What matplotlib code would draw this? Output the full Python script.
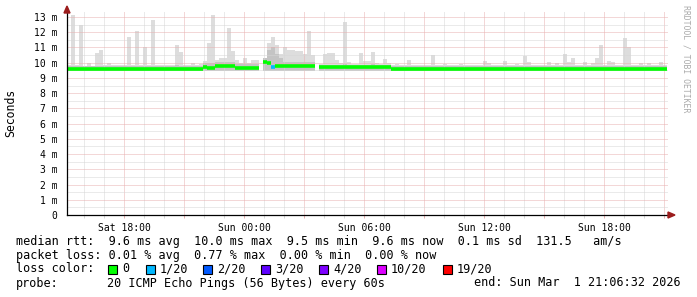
import numpy as np
import matplotlib
matplotlib.use("Agg")
import matplotlib.pyplot as plt
import matplotlib.dates as mdates
from matplotlib.patches import Polygon, Rectangle
from datetime import datetime, timedelta

nan = np.nan

# 12 minute steps, Sat 28 Feb 15:09 -> Sun 1 Mar 21:09
t_start = datetime(2026, 2, 28, 15, 9)
t_end = datetime(2026, 3, 1, 21, 12)
step_min = 12

# top of the smoke (max rtt per step, ms)
smoke_top = [
    9.85, 13.1, 9.85, 12.5, 9.8, 10.0, 9.8, 10.65, 10.83, 9.85,
    9.95, 9.85, 9.85, 9.85, 9.85, 11.7, 9.85, 12.08, 9.85, 11.05,
    9.85, 12.8, 9.85, 9.85, 9.85, 9.85, 9.85, 11.16, 10.7, 9.85,
    9.85, 10.0, 9.85, 9.9, 10.1, 11.3, 13.1, 10.2, 10.3, 10.3,
    12.3, 10.77, 10.18, 10.0, 10.33, 10.0, 10.18, 10.18, nan, 10.33,
    11.3, 11.7, 11.16, 10.6, 11.05, 10.83, 10.83, 10.77, 10.77, 10.6,
    12.08, 10.5, nan, 9.9, 10.6, 10.65, 10.65, 10.2, 10.0, 12.7,
    10.05, 9.9, 9.9, 10.65, 10.1, 10.1, 10.7, 10.0, 9.9, 10.24,
    10.0, 9.85, 9.9, 9.85, 9.85, 10.18, 9.85, 9.85, 9.85, 9.85,
    9.85, 10.5, 9.85, 9.85, 9.9, 9.85, 9.85, 9.85, 9.9, 9.85,
    9.85, 9.85, 9.85, 9.85, 10.1, 9.98, 9.85, 9.85, 9.85, 10.1,
    9.85, 9.85, 9.9, 9.85, 10.44, 10.07, 9.85, 9.85, 9.85, 9.85,
    10.07, 9.85, 9.98, 9.85, 10.57, 10.05, 10.3, 9.85, 9.85, 10.07,
    9.85, 10.0, 10.3, 11.16, 9.85, 10.1, 10.05, 9.85, 9.85, 11.6,
    11.0, 9.85, 9.85, 10.0, 9.85, 9.95, 9.85, 9.85, 10.07, 9.85,
]

# darker inner smoke (upper quartile, ms)
smoke_mid = [
    9.75, 9.8, 9.75, 9.8, 9.75, 9.75, 9.75, 9.8, 9.8, 9.75,
    9.75, 9.75, 9.75, 9.75, 9.75, 9.8, 9.75, 9.8, 9.75, 9.8,
    9.75, 9.8, 9.75, 9.75, 9.75, 9.75, 9.75, 9.85, 9.8, 9.75,
    9.75, 9.75, 9.75, 9.75, 9.95, 10.0, 10.0, 10.05, 10.05, 10.05,
    10.05, 10.05, 9.9, 9.9, 9.9, 9.9, 9.9, 9.9, nan, 10.3,
    10.8, 11.0, 10.6, 10.3, 10.05, 10.05, 10.05, 10.05, 10.05, 10.05,
    10.05, 10.05, nan, 9.85, 9.85, 9.85, 9.85, 9.85, 9.85, 9.9,
    9.85, 9.85, 9.85, 9.85, 9.85, 9.85, 9.9, 9.85, 9.85, 9.85,
    9.85, 9.75, 9.75, 9.75, 9.75, 9.8, 9.75, 9.75, 9.75, 9.75,
    9.75, 9.8, 9.75, 9.75, 9.75, 9.75, 9.75, 9.75, 9.75, 9.75,
    9.75, 9.75, 9.75, 9.75, 9.8, 9.75, 9.75, 9.75, 9.75, 9.8,
    9.75, 9.75, 9.75, 9.75, 9.8, 9.75, 9.75, 9.75, 9.75, 9.75,
    9.75, 9.75, 9.75, 9.75, 9.8, 9.75, 9.8, 9.75, 9.75, 9.75,
    9.75, 9.75, 9.8, 9.8, 9.75, 9.75, 9.75, 9.75, 9.75, 9.8,
    9.8, 9.75, 9.75, 9.75, 9.75, 9.75, 9.75, 9.75, 9.75, 9.75,
]
smoke_floor = 9.45

median = [
    9.6, 9.6, 9.6, 9.6, 9.6, 9.6, 9.6, 9.6, 9.6, 9.6,
    9.6, 9.6, 9.6, 9.6, 9.6, 9.6, 9.6, 9.6, 9.6, 9.6,
    9.6, 9.6, 9.6, 9.6, 9.6, 9.6, 9.6, 9.6, 9.6, 9.6,
    9.6, 9.6, 9.6, 9.6, 9.7, 9.66, 9.62, 9.76, 9.76, 9.76,
    9.76, 9.76, 9.68, 9.68, 9.68, 9.62, 9.62, 9.62, nan, 10.05,
    9.98, 9.7, 9.78, 9.78, 9.78, 9.78, 9.78, 9.78, 9.78, 9.78,
    9.78, 9.78, nan, 9.7, 9.7, 9.7, 9.7, 9.7, 9.7, 9.7,
    9.7, 9.7, 9.7, 9.7, 9.7, 9.7, 9.7, 9.7, 9.7, 9.7,
    9.7, 9.6, 9.6, 9.6, 9.6, 9.6, 9.6, 9.6, 9.6, 9.6,
    9.6, 9.6, 9.6, 9.6, 9.6, 9.6, 9.6, 9.6, 9.6, 9.6,
    9.6, 9.6, 9.6, 9.6, 9.6, 9.6, 9.6, 9.6, 9.6, 9.6,
    9.6, 9.6, 9.6, 9.6, 9.6, 9.6, 9.6, 9.6, 9.6, 9.6,
    9.6, 9.6, 9.6, 9.6, 9.6, 9.6, 9.6, 9.6, 9.6, 9.6,
    9.6, 9.6, 9.6, 9.6, 9.6, 9.6, 9.6, 9.6, 9.6, 9.6,
    9.6, 9.6, 9.6, 9.6, 9.6, 9.6, 9.6, 9.6, 9.6, 9.6,
]

# lost pings out of 20 per step (only one step had a loss)
loss = [0] * 150
loss[51] = 1

loss_labels = ["0", "1/20", "2/20", "3/20", "4/20", "10/20", "19/20"]
loss_steps = [0, 1, 2, 3, 4, 10, 19]
loss_colors = ["#00ff00", "#00b8ff", "#0059ff", "#5e00ff", "#7e00ff", "#dd00ff", "#ff0000"]

y_ticks = list(range(0, 14))
y_labels = ["0"] + ["%d m" % v for v in y_ticks[1:]]

stats_lines = [
    "median rtt:  9.6 ms avg  10.0 ms max  9.5 ms min  9.6 ms now  0.1 ms sd  131.5   am/s",
    "packet loss: 0.01 % avg  0.77 % max  0.00 % min  0.00 % now",
]

W, H = 697, 297
MONO = "DejaVu Sans Mono"


def fx(px):
    return px / W


def fy(py):
    return 1 - py / H


def loss_color(n):
    idx = 0
    for i, s in enumerate(loss_steps):
        if n >= s:
            idx = i
    return loss_colors[idx]


fig = plt.figure(figsize=(W / 100, H / 100), dpi=100)
ax = fig.add_axes([fx(67), fy(215), fx(668) - fx(67), fy(12.4) - fy(215)])

times = mdates.date2num([t_start + timedelta(minutes=step_min * i) for i in range(len(median))])
w = step_min / 1440.0

top = np.array(smoke_top)
mid = np.array(smoke_mid)
med = np.array(median)

# smoke under the grid, median on top of it
ax.bar(times, top - smoke_floor, bottom=smoke_floor, width=w, align="edge",
       color="#dddddd", linewidth=0, zorder=1)
ax.bar(times, mid - smoke_floor, bottom=smoke_floor, width=w, align="edge",
       color="#c4c4c4", linewidth=0, zorder=1.2)
ax.hlines(med, times, times + w, colors=[loss_color(n) for n in loss],
          linewidth=2.6, zorder=4)

ax.set_xlim(mdates.date2num(t_start), mdates.date2num(t_end))
ax.set_ylim(0, 13.3)

ax.xaxis.set_major_locator(mdates.HourLocator(byhour=range(0, 24, 3)))
ax.xaxis.set_minor_locator(mdates.HourLocator())
ax.xaxis.set_major_formatter(mdates.DateFormatter(""))
ax.set_yticks(y_ticks)
ax.set_yticks(np.arange(0.5, 13.5, 1.0), minor=True)
ax.set_yticklabels(y_labels, fontfamily=MONO, fontsize=7)

ax.set_axisbelow(False)
ax.grid(which="minor", color="#d6d6d6", linestyle=(0, (1, 1)), linewidth=0.72)
ax.grid(which="major", color="#e8b0b0", linestyle=(0, (1, 1)), linewidth=0.72)
ax.tick_params(axis="y", which="both", length=0, pad=7)
ax.tick_params(axis="x", which="minor", length=2, width=0.7, color="#d6d6d6")
ax.tick_params(axis="x", which="major", length=2, width=0.7, color="#e8b0b0")

# 6-hourly time labels
for d in [datetime(2026, 2, 28, 18), datetime(2026, 3, 1, 0), datetime(2026, 3, 1, 6),
          datetime(2026, 3, 1, 12), datetime(2026, 3, 1, 18)]:
    ax.text(mdates.date2num(d), -0.55, d.strftime("%a %H:%M"), ha="center", va="top",
            fontfamily=MONO, fontsize=7)

for s in ["top", "right"]:
    ax.spines[s].set_visible(False)
for s in ["left", "bottom"]:
    ax.spines[s].set_color("black")
    ax.spines[s].set_linewidth(0.9)
    ax.spines[s].set_zorder(5)

# axis arrows
fig.patches.append(Polygon([[fx(64), fy(13)], [fx(70), fy(13)], [fx(67), fy(6)]],
                           closed=True, color="#9b1c1c", transform=fig.transFigure))
fig.patches.append(Polygon([[fx(668), fy(212)], [fx(668), fy(218)], [fx(675), fy(215)]],
                           closed=True, color="#9b1c1c", transform=fig.transFigure))

fig.text(fx(11), fy(113), "Seconds", rotation=90, ha="center", va="center",
         fontfamily=MONO, fontsize=8.3)
fig.text(fx(686), fy(5), "RRDTOOL / TOBI OETIKER", rotation=270, ha="center", va="top",
         fontfamily=MONO, fontsize=5.9, color="#aaaaaa")

fs = 8.5
fig.text(fx(16), fy(241), stats_lines[0], ha="left", va="center", fontfamily=MONO, fontsize=fs)
fig.text(fx(16), fy(255), stats_lines[1], ha="left", va="center", fontfamily=MONO, fontsize=fs)
fig.text(fx(16), fy(269), "loss color:", ha="left", va="center", fontfamily=MONO, fontsize=fs)

box_x = [108, 146, 203, 261, 319, 377, 443]
for bx, lab, col in zip(box_x, loss_labels, loss_colors):
    fig.patches.append(Rectangle((fx(bx), fy(273.5)), fx(9), 9 / H, facecolor=col,
                                 edgecolor="black", linewidth=0.8, transform=fig.transFigure))
    fig.text(fx(bx + 14), fy(269), lab, ha="left", va="center", fontfamily=MONO, fontsize=fs)

fig.text(fx(16), fy(283), "probe:", ha="left", va="center", fontfamily=MONO, fontsize=fs)
fig.text(fx(107), fy(283), "20 ICMP Echo Pings (56 Bytes) every 60s", ha="left", va="center",
         fontfamily=MONO, fontsize=fs)
fig.text(fx(681), fy(283), "end: Sun Mar  1 21:06:32 2026", ha="right", va="center",
         fontfamily=MONO, fontsize=fs)

fig.savefig("out.png", dpi=100, facecolor="white")
